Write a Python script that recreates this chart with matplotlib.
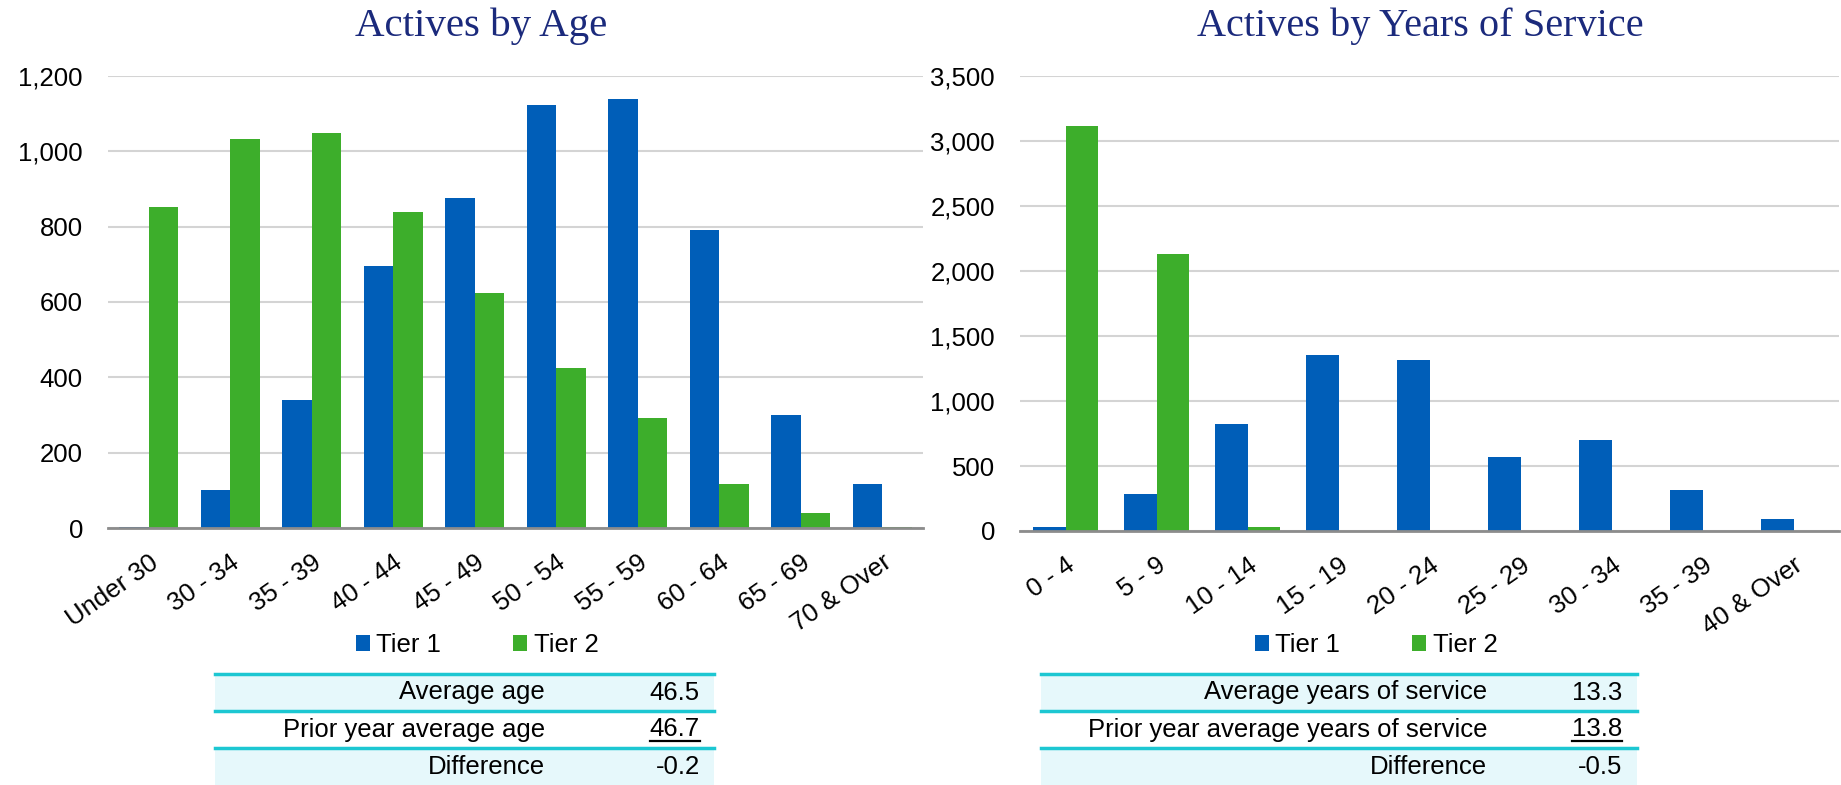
import matplotlib
matplotlib.use('Agg')
import matplotlib.pyplot as plt
from matplotlib.patches import Rectangle
from matplotlib.lines import Line2D
from matplotlib.ticker import FuncFormatter
import numpy as np

# ---- data
age_cats = ['Under 30', '30 - 34', '35 - 39', '40 - 44', '45 - 49',
            '50 - 54', '55 - 59', '60 - 64', '65 - 69', '70 & Over']
age_tier1 = [3, 102, 341, 696, 877, 1122, 1140, 791, 301, 117]
age_tier2 = [852, 1032, 1049, 838, 625, 426, 291, 117, 39, 2]

svc_cats = ['0 - 4', '5 - 9', '10 - 14', '15 - 19', '20 - 24',
            '25 - 29', '30 - 34', '35 - 39', '40 & Over']
svc_tier1 = [27, 288, 824, 1354, 1315, 568, 697, 313, 91]
svc_tier2 = [3114, 2133, 27, 3, 1, 2, 0, 0, 0]

age_rows = ['Average age', 'Prior year average age', 'Difference']
age_vals = ['46.5', '46.7', '-0.2']
svc_rows = ['Average years of service', 'Prior year average years of service', 'Difference']
svc_vals = ['13.3', '13.8', '-0.5']

BLUE = '#005EB8'
GREEN = '#3DAE2B'
NAVY = '#1B2A7C'
TEAL = '#1CC7D2'
CYAN = '#E6F8FB'
FS = 18.5

plt.rcParams['font.family'] = ['Liberation Sans', 'DejaVu Sans']

W, H = 1841, 785
fig = plt.figure(figsize=(W / 100, H / 100), dpi=100)


def px(x0, y0, x1, y1):
    return [x0 / W, 1 - y1 / H, (x1 - x0) / W, (y1 - y0) / H]


def bar_chart(rect, cats, t1, t2, ymax, step, title, title_x, title_fs):
    ax = fig.add_axes(rect)
    x = np.arange(len(cats))
    w = 0.36
    ax.bar(x - w / 2, t1, w, color=BLUE, label='Tier 1', zorder=3)
    ax.bar(x + w / 2, t2, w, color=GREEN, label='Tier 2', zorder=3)
    ax.set_xlim(-0.5, len(cats) - 0.5)
    ax.set_ylim(0, ymax)
    ax.set_yticks(np.arange(0, ymax + 1, step))
    ax.yaxis.set_major_formatter(FuncFormatter(lambda v, p: f'{int(v):,}'))
    ax.grid(axis='y', color='#D4D4D4', lw=1.5, zorder=0)
    for s in ['top', 'right', 'left']:
        ax.spines[s].set_visible(False)
    ax.spines['bottom'].set_color('#8C8C8C')
    ax.spines['bottom'].set_linewidth(2)
    ax.spines['bottom'].set_zorder(4)
    ax.tick_params(axis='y', length=0, pad=18, labelsize=FS)
    ax.tick_params(axis='x', length=0, pad=16, labelsize=FS)
    ax.set_xticks(x)
    ax.set_xticklabels(cats, rotation=35, ha='right', rotation_mode='anchor')
    fig.text(title_x / W, 1 - 26 / H, title, ha='center', va='center',
             fontsize=title_fs, color=NAVY, family=['Liberation Serif', 'DejaVu Serif'])
    return ax


ax1 = bar_chart(px(108, 76, 923, 528), age_cats, age_tier1, age_tier2,
                1200, 200, 'Actives by Age', 481, 29.5)
ax2 = bar_chart(px(1020, 76, 1839, 531), svc_cats, svc_tier1, svc_tier2,
                3500, 500, 'Actives by Years of Service', 1420, 29)

for ax, cx in [(ax1, 477), (ax2, 1376)]:
    ax.legend(loc='center', bbox_to_anchor=(cx / W, 1 - 645 / H),
              bbox_transform=fig.transFigure, ncol=2, frameon=False,
              fontsize=FS, handlelength=0.55, handleheight=0.55,
              columnspacing=2.8, handletextpad=0.25)


def stats_table(x0, x1, label_r, val_r, rows, vals):
    ys = [674, 711, 748, 785]
    for i in range(3):
        top, bot = ys[i], ys[i + 1]
        fc = CYAN if i != 1 else 'white'
        fig.add_artist(Rectangle((x0 / W, 1 - bot / H), (x1 - x0) / W,
                                 (bot - top) / H, transform=fig.transFigure,
                                 facecolor=fc, edgecolor='none', zorder=1))
        fig.add_artist(Line2D([x0 / W, x1 / W], [1 - top / H] * 2,
                              transform=fig.transFigure, color=TEAL, lw=2.5, zorder=2))
        yc = 1 - (top + bot) / 2 / H
        fig.text(label_r / W, yc, rows[i], ha='right', va='center', fontsize=FS, zorder=3)
        t = fig.text(val_r / W, yc, vals[i], ha='right', va='center', fontsize=FS, zorder=3)
        if i == 1:
            fig.canvas.draw()
            bb = t.get_window_extent()
            fig.add_artist(Line2D([bb.x0 / W, bb.x1 / W], [(bb.y0 + 1) / H] * 2,
                                  transform=fig.transFigure, color='black', lw=1.6, zorder=3))


stats_table(215, 714, 545, 700, age_rows, age_vals)
stats_table(1041, 1637, 1487, 1622, svc_rows, svc_vals)

fig.savefig('out.png', dpi=100)
